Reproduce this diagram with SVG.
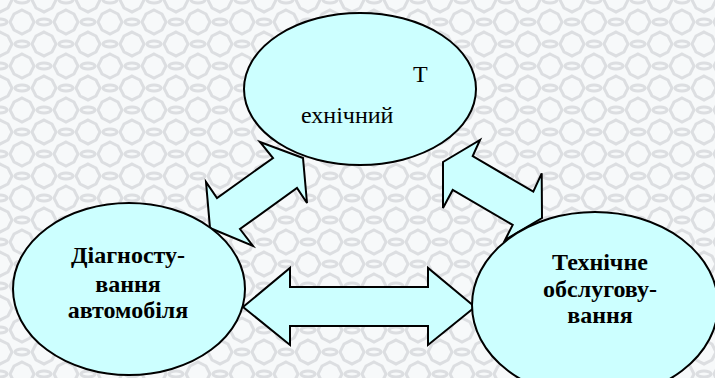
<svg xmlns="http://www.w3.org/2000/svg" width="715" height="378" viewBox="0 0 715 378">
  <defs>
    <!-- soft grey lattice used as the page texture -->
    <pattern id="lattice" width="44" height="44" patternUnits="userSpaceOnUse">
      <rect width="44" height="44" fill="#f7f9fa"/>
      <g fill="none" stroke="#dcdee1" stroke-width="3">
        <path d="M0,-12 L8,-8 L12,0 L8,8 L0,12 L-8,8 L-12,0 L-8,-8 Z"/>
        <path d="M44,-12 L52,-8 L56,0 L52,8 L44,12 L36,8 L32,0 L36,-8 Z"/>
        <path d="M0,32 L8,36 L12,44 L8,52 L0,56 L-8,52 L-12,44 L-8,36 Z"/>
        <path d="M44,32 L52,36 L56,44 L52,52 L44,56 L36,52 L32,44 L36,36 Z"/>
        <path d="M22,10 L30,14 L34,22 L30,30 L22,34 L14,30 L10,22 L14,14 Z"/>
        <ellipse cx="22" cy="0" rx="7" ry="3"/>
        <ellipse cx="22" cy="44" rx="7" ry="3"/>
        <ellipse cx="0" cy="22" rx="7" ry="3"/>
        <ellipse cx="44" cy="22" rx="7" ry="3"/>
      </g>
    </pattern>
  </defs>
  <style>
    .shape { fill: #ccffff; stroke: #000; stroke-width: 2; stroke-linejoin: miter; }
    .plain { font-size: 24px; fill: #000; }
    .bold { font-size: 24px; font-weight: bold; fill: #000; text-anchor: middle; }
  </style>

  <rect width="715" height="378" fill="url(#lattice)"/>

  <!-- two-headed arrows between the three areas -->
  <g id="connectors">
    <polygon class="shape" points="303,158 260,142 273,158 217,198 206,182 210,228 253,246 240,229 297,188 307,203"/>
    <polygon class="shape" points="443,162 480,140 472.7,156 533.3,191.7 541.7,173.3 542,218 505,240 512.7,225 452.7,190 443,208"/>
    <polygon class="shape" points="243,307 290,268 290,287 428,287 428,268 475,307 428,345 428,326 290,326 290,345"/>
  </g>

  <g id="node-technical" font-family="Liberation Serif, DejaVu Serif, serif">
    <ellipse class="shape" cx="360" cy="89" rx="116" ry="76"/>
    <text class="plain" x="413" y="82">Т</text>
    <text class="plain" x="301" y="123">ехнічний</text>
  </g>

  <g id="node-diagnostics" font-family="Liberation Serif, DejaVu Serif, serif">
    <ellipse class="shape" cx="129" cy="289" rx="116" ry="86"/>
    <text class="bold" x="128" y="263">Діагносту-</text>
    <text class="bold" x="128" y="292">вання</text>
    <text class="bold" x="128" y="318">автомобіля</text>
  </g>

  <g id="node-maintenance" font-family="Liberation Serif, DejaVu Serif, serif">
    <ellipse class="shape" cx="595" cy="305" rx="123" ry="93"/>
    <text class="bold" x="600" y="270">Технічне</text>
    <text class="bold" x="600" y="297">обслугову-</text>
    <text class="bold" x="600" y="323">вання</text>
  </g>
</svg>
